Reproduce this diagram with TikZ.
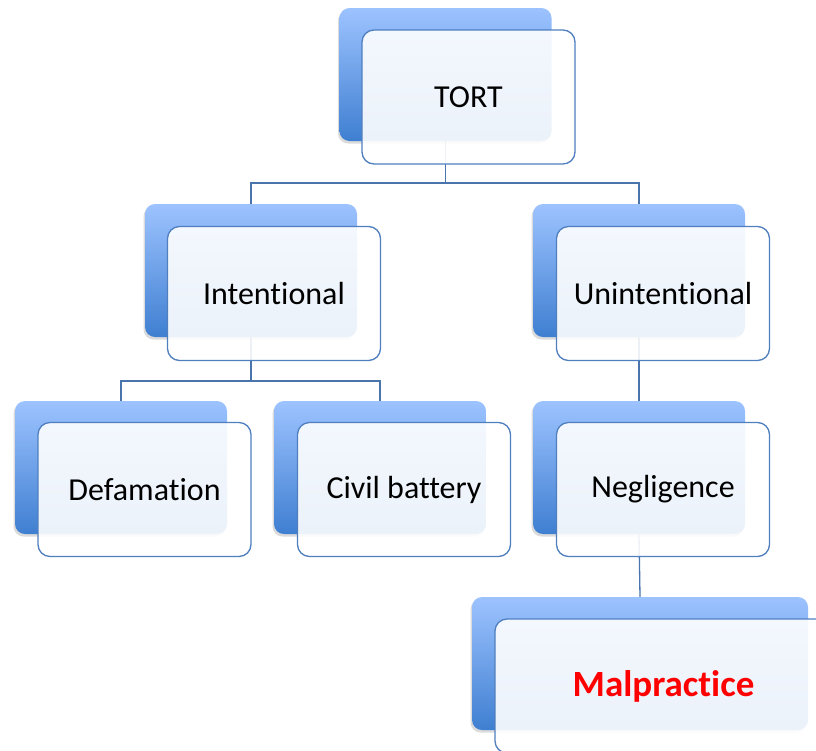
\documentclass[tikz,border=0pt]{standalone}
\usepackage{fontspec}
\setmainfont[Ligatures=NoCommon]{Carlito}
\usetikzlibrary{shadows}
\definecolor{backtop}{HTML}{9DC3FF}
\definecolor{backbot}{HTML}{3F7FD1}
\definecolor{frontline}{HTML}{4F7FBE}
\definecolor{conn}{HTML}{4A74AC}
\definecolor{redtext}{HTML}{FF0000}
\tikzset{
  backbox/.style={rectangle, rounded corners=10pt, minimum width=212pt, minimum height=133pt,
    inner sep=0pt, top color=backtop, bottom color=backbot, draw=none,
    drop shadow={shadow xshift=-1.5pt, shadow yshift=-2.5pt, opacity=0.2, fill=black!70}},
  frontbox/.style={rectangle, rounded corners=12pt, minimum width=213pt, minimum height=134pt,
    inner sep=0pt, fill=white, fill opacity=0.9, text opacity=1, draw=frontline, draw opacity=1,
    line width=1.3pt, font=\fontsize{32}{38}\selectfont},
  connector/.style={draw=conn, line width=1.3pt}
}
\begin{document}
\begin{tikzpicture}[x=1pt,y=-1pt]
\useasboundingbox (0,0) rectangle (816,750);
\clip (0,0) rectangle (816,750);
% back boxes
\node[backbox] (tortB) at (445.5,74.5) {};
\node[backbox] (intB) at (251,270.5) {};
\node[backbox] (unB) at (639,270.5) {};
\node[backbox] (defB) at (121,467.5) {};
\node[backbox] (civB) at (380,467.5) {};
\node[backbox] (negB) at (639,467.5) {};
\node[backbox, minimum width=336pt] (malB) at (640,663.5) {};
% connectors
\coordinate (bar1) at (445.5,183);
\coordinate (bar2) at (251,381);
\draw[connector] (tortB.south) -- (bar1) -| (intB.north);
\draw[connector] (bar1) -| (unB.north);
\draw[connector] (intB.south) -- (bar2) -| (defB.north);
\draw[connector] (bar2) -| (civB.north);
\draw[connector] (unB.south) -- (negB.north);
\draw[connector] (negB.south) -- (malB.north);
% front boxes
\node[frontbox] (tort) at (468.5,97) {TORT};
\node[frontbox] (int) at (274,293.5) {Intentional};
\node[frontbox] (un) at (663,293.5) {Unintentional};
\node[frontbox] (def) at (144.5,489.5) {Defamation};
\node[frontbox] (civ) at (404,489.5) {Civil battery};
\node[frontbox] (neg) at (663,489.5) {Negligence};
\node[frontbox, minimum width=337pt, text=redtext, font=\fontsize{37}{44}\selectfont\bfseries] (mal) at (663.5,686) {Malpractice};
\end{tikzpicture}
\end{document}
